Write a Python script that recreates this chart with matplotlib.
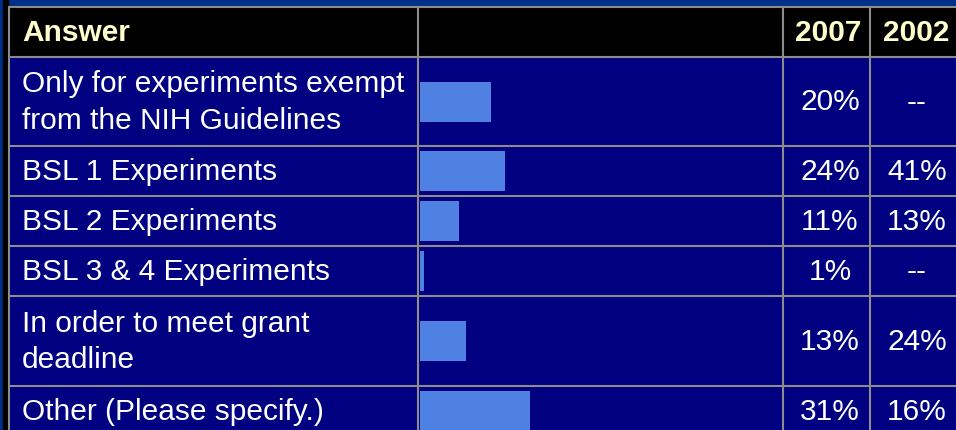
import matplotlib
matplotlib.use('Agg')
import matplotlib.pyplot as plt
import matplotlib.patches as mpatches
import numpy as np

# data
answers = [
    'Only for experiments exempt\nfrom the NIH Guidelines',
    'BSL 1 Experiments',
    'BSL 2 Experiments',
    'BSL 3 & 4 Experiments',
    'In order to meet grant\ndeadline',
    'Other (Please specify.)',
]
pct_2007 = [20, 24, 11, 1, 13, 31]
pct_2002 = [None, 41, 13, None, 24, 16]
headers = ['Answer', '2007', '2002']

# colours
C_TOP = '#00308A'
C_ROW = '#000080'
C_HEAD = '#000000'
C_BAR = '#4F81E3'
C_LINE = '#8C8C8C'
C_HTXT = '#FFFFCC'

plt.rcParams['font.family'] = ['Liberation Sans', 'DejaVu Sans']

W, H = 956, 430
fig = plt.figure(figsize=(W / 100, H / 100), dpi=100, facecolor=C_TOP)
ax = fig.add_axes([0, 0, 1, 1])
ax.set_xlim(0, W)
ax.set_ylim(H, 0)
ax.axis('off')

# layout (pixels)
x_cols = [9, 418.5, 783, 870, 980]
head_top, head_h = 7, 50
row_h = [89, 50, 50, 50, 90, 50]
row_top = head_top + head_h + np.concatenate([[0], np.cumsum(row_h)[:-1]])
row_mid = row_top + np.array(row_h) / 2
fs = 21.5

# left edge strip
ax.add_patch(mpatches.Rectangle((3, 0), 5, H, color='black', zorder=1))

# header
ax.add_patch(mpatches.Rectangle((x_cols[0], head_top), W, head_h, color=C_HEAD, zorder=1))
hmid = head_top + head_h / 2
ax.text(22, hmid + 1, headers[0], color=C_HTXT, fontsize=fs, fontweight='bold',
        va='center', ha='left')
ax.text(828, hmid + 1, headers[1], color=C_HTXT, fontsize=fs, fontweight='bold',
        va='center', ha='center')
ax.text(916, hmid + 1, headers[2], color=C_HTXT, fontsize=fs, fontweight='bold',
        va='center', ha='center')

# body rows
for i, (lab, a, b) in enumerate(zip(answers, pct_2007, pct_2002)):
    ax.add_patch(mpatches.Rectangle((x_cols[0], row_top[i]), W, row_h[i],
                                    color=C_ROW, zorder=1))
    ax.text(22, row_mid[i] + 1, lab, color='white', fontsize=fs, va='center',
            ha='left', linespacing=1.4)
    ax.text(830, row_mid[i] + 1, f'{a}%', color='white', fontsize=fs,
            va='center', ha='center')
    ax.text(917, row_mid[i] + 1, '--' if b is None else f'{b}%', color='white',
            fontsize=fs, va='center', ha='center')

# grid lines
for y in [head_top] + list(row_top) + [row_top[-1] + row_h[-1]]:
    ax.plot([x_cols[0], W], [y, y], color=C_LINE, lw=1.5, zorder=3)
for x in x_cols[:4]:
    ax.plot([x, x], [head_top, H], color=C_LINE, lw=1.5, zorder=3)

# bars in the bar column
px_per_pct = 3.55
bx0, bx1 = 420, 783
bax = fig.add_axes([bx0 / W, 0, (bx1 - bx0) / W, 1])
bax.set_xlim(0, (bx1 - bx0) / px_per_pct)
bax.set_ylim(H, 0)
bax.axis('off')
bax.patch.set_alpha(0)
bax.barh(row_mid, pct_2007, height=40, color=C_BAR, zorder=2)

fig.savefig('out.png', dpi=100, facecolor=C_TOP)
